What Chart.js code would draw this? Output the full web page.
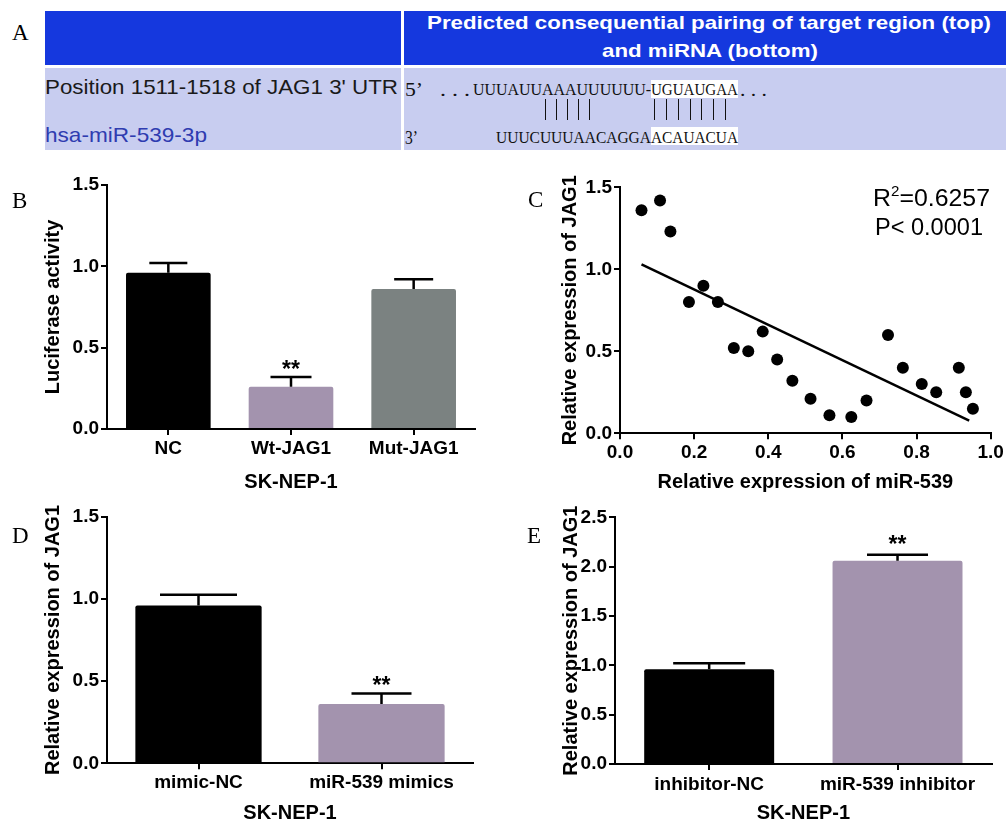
<!DOCTYPE html>
<html>
<head>
<meta charset="utf-8">
<title>miR-539 / JAG1</title>
<script src="https://cdn.jsdelivr.net/npm/chart.js@4.4.1/dist/chart.umd.min.js"></script>
<style>
  body { margin: 0; width: 1006px; height: 824px; position: relative; overflow: hidden; background: #fff; }
  canvas { position: absolute; }
  .cell { position: absolute; }
  .hd { background: #1538de; }
  .lt { background: #c8cdf0; }
  .hl { position: absolute; background: #fff; }
  .t { position: absolute; white-space: nowrap; line-height: 1; transform-origin: 0 0; }
  .pair { position: absolute; width: 1px; top: 99px; height: 21px; background: #111; }
</style>
</head>
<body>
<!-- panel A: target site table -->
<div class="cell hd" style="left:45px;top:11px;width:356px;height:54px"></div>
<div class="cell hd" style="left:404px;top:11px;width:602px;height:54px"></div>
<div class="cell lt" style="left:45px;top:68px;width:356px;height:82px"></div>
<div class="cell lt" style="left:404px;top:68px;width:602px;height:82px"></div>
<div class="hl" style="left:651px;top:80px;width:87px;height:18px"></div>
<div class="hl" style="left:651px;top:127px;width:87px;height:18px"></div>

<canvas id="chartB" width="500" height="330" style="left:0;top:170px"></canvas>
<canvas id="chartC" width="486" height="330" style="left:520px;top:170px"></canvas>
<canvas id="chartD" width="500" height="344" style="left:0;top:490px"></canvas>
<canvas id="chartE" width="506" height="344" style="left:500px;top:490px"></canvas>

<script>
// ---- data ----
// B: luciferase assay
var bLabels = ["NC", "Wt-JAG1", "Mut-JAG1"];
var bMeans = [0.96, 0.26, 0.86];
var bSem = [0.06, 0.06, 0.06];
var bStars = ["", "**", ""];

// C: correlation
var cMiR539 = [0.058, 0.108, 0.136, 0.186, 0.225, 0.264, 0.307, 0.346, 0.385, 0.424, 0.465,
               0.514, 0.565, 0.624, 0.665, 0.723, 0.763, 0.814, 0.853, 0.914, 0.933, 0.952];
var cJag1 = [1.36, 1.42, 1.23, 0.80, 0.90, 0.80, 0.52, 0.50, 0.62, 0.45, 0.32,
             0.21, 0.11, 0.10, 0.20, 0.60, 0.40, 0.30, 0.25, 0.40, 0.25, 0.15];
var cFitX = [0.058, 0.942];
var cFitY = [1.03, 0.077];

// D: mimics
var dLabels = ["mimic-NC", "miR-539 mimics"];
var dMeans = [0.96, 0.36];
var dSem = [0.065, 0.065];
var dStars = ["", "**"];

// E: inhibitor
var eLabels = ["inhibitor-NC", "miR-539 inhibitor"];
var eMeans = [0.96, 2.06];
var eSem = [0.06, 0.06];
var eStars = ["", "**"];

var BLACK = "#000000", PURPLE = "#a393ae", GREY = "#7b8281";

// ---- text helpers ----
var SANS = '"Liberation Sans", Arial, sans-serif';
var SERIF = '"Liberation Serif", "Times New Roman", serif';

function put(html, x, baseline, size, family, weight, color, w) {
    var el = document.createElement("div");
    el.className = "t";
    el.innerHTML = html;
    var ratio = family === SERIF ? 0.8375 : 0.8465;
    el.style.left = x + "px";
    el.style.top = (baseline - ratio * size) + "px";
    el.style.fontSize = size + "px";
    el.style.fontFamily = family;
    el.style.fontWeight = weight;
    el.style.color = color;
    document.body.appendChild(el);
    if (w) {
        var nat = el.getBoundingClientRect().width;
        el.style.transform = "scaleX(" + (w / nat) + ")";
    }
    return el;
}

// panel A text
put("Predicted consequential pairing of target region (top)", 427, 29.3, 19, SANS, "bold", "#fff", 564);
put("and miRNA (bottom)", 602, 57, 19, SANS, "bold", "#fff", 216);
put("Position 1511-1518 of JAG1 3' UTR", 45, 93.3, 21, SANS, "normal", "#1a1a1a", 353);
put("hsa-miR-539-3p", 45, 141.7, 21, SANS, "normal", "#2f3cb0", 162);
put("5\u2019", 405, 96, 19, SERIF, "normal", "#111", 18);
put("3\u2019", 405, 144, 19, SERIF, "normal", "#111", 13);
put(". . .", 440, 95.7, 18, SERIF, "normal", "#111", 30);
put("UUUAUUAAAUUUUUU-", 473, 95.7, 17, SERIF, "normal", "#111", 178);
put("UGUAUGAA", 651, 95.7, 17, SERIF, "normal", "#111", 87);
put(". . .", 740, 95.7, 18, SERIF, "normal", "#111", 27);
put("UUUCUUUAACAGGA", 496, 143.3, 17, SERIF, "normal", "#111", 155);
put("ACAUACUA", 651, 143.3, 17, SERIF, "normal", "#111", 87);

[545, 556, 567, 578, 589, 654, 666, 678, 690, 701, 713, 725].forEach(function (x) {
    var d = document.createElement("div");
    d.className = "pair";
    d.style.left = x + "px";
    document.body.appendChild(d);
});

// panel letters
put("A", 12, 40, 23, SERIF, "normal", "#000");
put("B", 12, 208, 23, SERIF, "normal", "#000");
put("C", 528, 207, 23, SERIF, "normal", "#000");
put("D", 12, 543, 23, SERIF, "normal", "#000");
put("E", 527, 543, 23, SERIF, "normal", "#000");

// C statistics
put('R<span style="font-size:14px;position:relative;top:-10px">2</span>=0.6257', 873, 206.7, 23, SANS, "normal", "#000", 117);
put("P&lt; 0.0001", 875, 235, 23, SANS, "normal", "#000", 108);

// ---- charts ----
Chart.defaults.font.family = SANS;
var tickFont = { family: SANS, size: 19, weight: "bold" };
var titleFont = { family: SANS, size: 20, weight: "bold" };
var axisGrid = { drawOnChartArea: false, drawTicks: true, tickLength: 6, color: "#000", lineWidth: 2 };
var axisBorder = { display: true, color: "#000", width: 2 };

// mean + SEM caps and significance stars
var errorBars = {
    id: "errorBars",
    afterDatasetsDraw: function (chart, args, opts) {
        var ctx = chart.ctx;
        var yScale = chart.scales.y;
        var vals = chart.data.datasets[0].data;
        var meta = chart.getDatasetMeta(0);
        ctx.save();
        ctx.strokeStyle = "#000";
        ctx.fillStyle = "#000";
        ctx.lineWidth = 2.5;
        ctx.font = "bold 23px " + SANS;
        ctx.textAlign = "center";
        ctx.textBaseline = "alphabetic";
        meta.data.forEach(function (bar, i) {
            var top = yScale.getPixelForValue(vals[i] + opts.sem[i]);
            var hw = opts.cap[i] / 2;
            ctx.beginPath();
            ctx.moveTo(bar.x, bar.y);
            ctx.lineTo(bar.x, top);
            ctx.moveTo(bar.x - hw, top);
            ctx.lineTo(bar.x + hw, top);
            ctx.stroke();
            if (opts.stars[i]) ctx.fillText(opts.stars[i], bar.x, top - opts.starGap);
        });
        ctx.restore();
    }
};

function barChart(id, labels, means, sem, stars, colors, yMax, yTitle, lay) {
    return new Chart(document.getElementById(id), {
        type: "bar",
        data: {
            labels: labels,
            datasets: [{
                data: means,
                backgroundColor: colors,
                borderRadius: 2,
                barPercentage: 0.69,
                categoryPercentage: 1
            }]
        },
        plugins: [errorBars],
        options: {
            responsive: false,
            animation: false,
            events: [],
            layout: { padding: { top: lay.top, right: lay.right, left: 0, bottom: 0 } },
            plugins: {
                legend: { display: false },
                tooltip: { enabled: false },
                errorBars: { sem: sem, stars: stars, cap: lay.cap, starGap: lay.starGap }
            },
            scales: {
                x: {
                    grid: Object.assign({ offset: false }, axisGrid),
                    border: axisBorder,
                    ticks: { color: "#000", font: tickFont, padding: lay.xPad },
                    title: { display: true, text: "SK-NEP-1", color: "#000", font: titleFont,
                             padding: { top: 0, bottom: lay.xtPad } },
                    afterFit: function (s) { s.height = lay.xH; }
                },
                y: {
                    min: 0,
                    max: yMax,
                    grid: axisGrid,
                    border: axisBorder,
                    ticks: { stepSize: 0.5, color: "#000", font: tickFont, padding: 2,
                             callback: function (v) { return v.toFixed(1); } },
                    title: { display: true, text: yTitle, color: "#000", font: titleFont,
                             padding: { top: lay.ytPad, bottom: 0 } },
                    afterFit: function (s) { s.width = lay.yW; }
                }
            }
        }
    });
}

barChart("chartB", bLabels, bMeans, bSem, bStars, [BLACK, PURPLE, GREY], 1.5, "Luciferase activity",
    { top: 15, right: 25, yW: 107, xH: 71, xPad: 2, xtPad: 6, ytPad: 41, cap: [38, 41, 39], starGap: 0 });

barChart("chartD", dLabels, dMeans, dSem, dStars, [BLACK, PURPLE], 1.5, "Relative expression of JAG1",
    { top: 26.7, right: 27, yW: 107, xH: 70.7, xPad: 2, xtPad: 9, ytPad: 41, cap: [77, 60], starGap: 0 });

barChart("chartE", eLabels, eMeans, eSem, eStars, [BLACK, PURPLE], 2.5, "Relative expression of JAG1",
    { top: 27.3, right: 14.3, yW: 115, xH: 70, xPad: 3, xtPad: 9, ytPad: 59.7, cap: [72, 61], starGap: 3 });

// C: scatter with fitted line
new Chart(document.getElementById("chartC"), {
    type: "scatter",
    data: {
        datasets: [
            {
                data: cMiR539.map(function (x, i) { return { x: x, y: cJag1[i] }; }),
                pointRadius: 6,
                backgroundColor: "#000",
                borderWidth: 0
            },
            {
                data: cFitX.map(function (x, i) { return { x: x, y: cFitY[i] }; }),
                showLine: true,
                pointRadius: 0,
                borderColor: "#000",
                borderWidth: 2.5
            }
        ]
    },
    options: {
        responsive: false,
        animation: false,
        events: [],
        layout: { padding: { top: 17.3, right: 15.3, left: 0, bottom: 0 } },
        plugins: { legend: { display: false }, tooltip: { enabled: false } },
        scales: {
            x: {
                type: "linear",
                min: 0,
                max: 1,
                grid: axisGrid,
                border: axisBorder,
                ticks: { stepSize: 0.2, color: "#000", font: tickFont, padding: 2,
                         callback: function (v) { return v.toFixed(1); } },
                title: { display: true, text: "Relative expression of miR-539", color: "#000", font: titleFont,
                         padding: { top: 0, bottom: 6 } },
                afterFit: function (s) { s.height = 66.7; }
            },
            y: {
                min: 0,
                max: 1.5,
                grid: axisGrid,
                border: axisBorder,
                ticks: { stepSize: 0.5, color: "#000", font: tickFont, padding: 2,
                         callback: function (v) { return v.toFixed(1); } },
                title: { display: true, text: "Relative expression of JAG1", color: "#000", font: titleFont,
                         padding: { top: 38, bottom: 0 } },
                afterFit: function (s) { s.width = 100; }
            }
        }
    }
});
</script>
</body>
</html>
